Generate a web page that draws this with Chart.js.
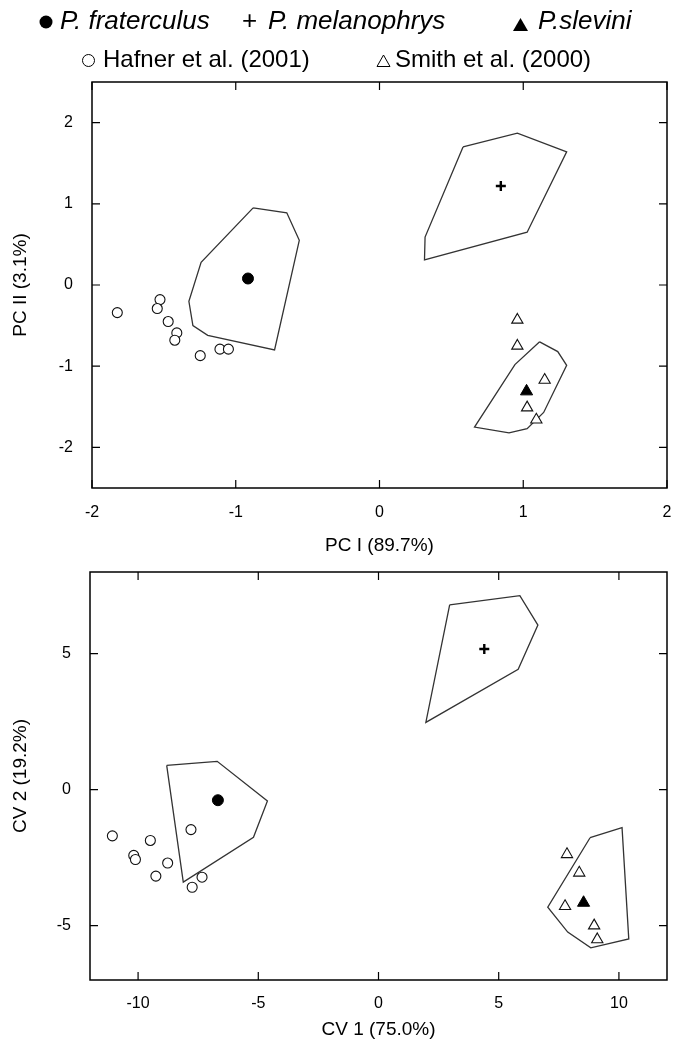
<!DOCTYPE html>
<html><head><meta charset="utf-8">
<script src="https://cdn.jsdelivr.net/npm/chart.js@4"></script>
<style>
body{margin:0;background:#fff;width:675px;height:1050px;overflow:hidden;position:relative;font-family:"Liberation Sans",Arial,sans-serif;color:#000;}
canvas{position:absolute;left:0;}
.t{position:absolute;white-space:nowrap;line-height:1;z-index:2;}
.m{position:absolute;z-index:2;}
</style></head><body>
<canvas id="pc" width="675" height="560" style="top:0;width:675px;height:560px"></canvas>
<canvas id="cv" width="675" height="490" style="top:560px;width:675px;height:490px"></canvas>

<svg class="m" style="left:39px;top:15px" width="14" height="14"><circle cx="7" cy="7" r="6.5" fill="#000"/></svg>
<div class="t" style="left:60px;top:7px;font-size:26px;font-style:italic">P. fraterculus</div>
<div class="t" style="left:242px;top:7px;font-size:26px">+</div>
<div class="t" style="left:268px;top:7px;font-size:26px;font-style:italic">P. melanophrys</div>
<svg class="m" style="left:513px;top:18px" width="16" height="14"><polygon points="0,13 7.5,0 15,13" fill="#000"/></svg>
<div class="t" style="left:538px;top:7px;font-size:26px;font-style:italic">P.slevini</div>

<svg class="m" style="left:81px;top:53px" width="15" height="15"><circle cx="7.5" cy="7.5" r="6" fill="none" stroke="#000" stroke-width="1"/></svg>
<div class="t" style="left:103px;top:47px;font-size:24px">Hafner et al. (2001)</div>
<svg class="m" style="left:376px;top:54px" width="15" height="14"><polygon points="1,12.5 7.5,1 14,12.5" fill="none" stroke="#000" stroke-width="1"/></svg>
<div class="t" style="left:395px;top:47px;font-size:24px">Smith et al. (2000)</div>

<script>
// ---------- tick labels ----------
const pcXTicks = [-2, -1, 0, 1, 2];
const pcYTicks = [-2, -1, 0, 1, 2];
const cvXTicks = [-10, -5, 0, 5, 10];
const cvYTicks = [-5, 0, 5];

// ---------- PCA (top) ----------
const pcFraterculus = [[-0.915, 0.08]];
const pcMelanophrys = [[0.844, 1.22]];
const pcSlevini = [[1.023, -1.31]];
const pcHafner = [[-1.824, -0.34], [-1.527, -0.18], [-1.546, -0.29], [-1.47, -0.45], [-1.41, -0.59], [-1.424, -0.68], [-1.247, -0.87], [-1.11, -0.79], [-1.051, -0.79]];
const pcSmith = [[0.959, -0.43], [0.959, -0.75], [1.149, -1.17], [1.027, -1.51], [1.091, -1.66]];
const pcHullFraterculus = [[-0.879, 0.95], [-0.645, 0.89], [-0.558, 0.55], [-0.73, -0.8], [-1.195, -0.62], [-1.298, -0.5], [-1.326, -0.2], [-1.241, 0.28]];
const pcHullMelanophrys = [[0.581, 1.7], [0.959, 1.87], [1.302, 1.64], [1.027, 0.65], [0.313, 0.31], [0.317, 0.59]];
const pcHullSlevini = [[1.114, -0.7], [1.24, -0.82], [1.302, -0.99], [1.142, -1.57], [1.027, -1.77], [0.901, -1.82], [0.661, -1.75], [0.942, -0.98]];

// ---------- CVA (bottom) ----------
const cvFraterculus = [[-6.68, -0.39]];
const cvMelanophrys = [[4.4, 5.17]];
const cvSlevini = [[8.53, -4.16]];
const cvHafner = [[-11.07, -1.7], [-9.49, -1.87], [-10.18, -2.42], [-10.11, -2.57], [-8.77, -2.7], [-9.26, -3.18], [-7.8, -1.47], [-7.34, -3.22], [-7.75, -3.59]];
const cvSmith = [[7.84, -2.38], [8.35, -3.06], [7.76, -4.29], [8.97, -5.0], [9.1, -5.51]];
const cvHullFraterculus = [[-8.81, 0.89], [-6.71, 1.04], [-4.62, -0.42], [-5.2, -1.75], [-8.12, -3.4]];
const cvHullMelanophrys = [[2.96, 6.79], [5.88, 7.13], [6.63, 6.05], [5.81, 4.42], [1.97, 2.47]];
const cvHullSlevini = [[8.8, -1.77], [10.13, -1.4], [10.41, -5.49], [8.83, -5.82], [7.87, -5.24], [7.04, -4.32]];

const FONT = '"Liberation Sans", Arial, sans-serif';
function pts(a) { return a.map(p => ({x: p[0], y: p[1]})); }
function ring(a) { return pts(a.concat([a[0]])); }

function datasets(frat, mel, slev, haf, smith, hulls) {
  const ds = [
    {label: 'P. fraterculus', data: pts(frat), pointStyle: 'circle', pointRadius: 5.5, backgroundColor: '#000', borderColor: '#000', borderWidth: 1},
    {label: 'P. melanophrys', data: pts(mel), pointStyle: 'cross', pointRadius: 5, borderColor: '#000', backgroundColor: '#000', borderWidth: 2.4},
    {label: 'P. slevini', data: pts(slev), pointStyle: 'triangle', pointRadius: 7, backgroundColor: '#000', borderColor: '#000', borderWidth: 1},
    {label: 'Hafner et al. (2001)', data: pts(haf), pointStyle: 'circle', pointRadius: 5, backgroundColor: '#fff', borderColor: '#111', borderWidth: 1.1},
    {label: 'Smith et al. (2000)', data: pts(smith), pointStyle: 'triangle', pointRadius: 6.5, backgroundColor: '#fff', borderColor: '#111', borderWidth: 1.1}
  ];
  hulls.forEach((h, i) => ds.push({label: 'hull' + i, data: ring(h), showLine: true, pointRadius: 0, borderColor: '#333', borderWidth: 1.3, fill: false, tension: 0}));
  return ds;
}

const frame = {
  id: 'frame',
  afterDraw(chart) {
    const {ctx, chartArea: a, scales: {x, y}} = chart;
    ctx.save();
    ctx.strokeStyle = '#000';
    ctx.lineWidth = 1.5;
    ctx.strokeRect(a.left, a.top, a.right - a.left, a.bottom - a.top);
    ctx.lineWidth = 1.2;
    ctx.beginPath();
    x.ticks.forEach(t => {
      const p = x.getPixelForValue(t.value);
      ctx.moveTo(p, a.bottom); ctx.lineTo(p, a.bottom - 8);
      ctx.moveTo(p, a.top); ctx.lineTo(p, a.top + 8);
    });
    y.ticks.forEach(t => {
      const p = y.getPixelForValue(t.value);
      ctx.moveTo(a.left, p); ctx.lineTo(a.left + 8, p);
      ctx.moveTo(a.right, p); ctx.lineTo(a.right - 8, p);
    });
    ctx.stroke();
    ctx.restore();
  }
};

function options(cfg) {
  return {
    responsive: false, animation: false, devicePixelRatio: 1,
    layout: {padding: {top: cfg.padTop, right: 2, left: 0, bottom: 0}},
    plugins: {legend: {display: false}, tooltip: {enabled: false}},
    scales: {
      x: {
        type: 'linear', min: cfg.xMin, max: cfg.xMax,
        afterBuildTicks: s => { s.ticks = cfg.xTicks.map(v => ({value: v})); },
        afterFit: s => { s.height = cfg.xHeight; s.paddingLeft = 0; s.paddingRight = 0; },
        grid: {display: false, drawTicks: false}, border: {display: false},
        ticks: {color: '#000', font: {family: FONT, size: 16}, padding: cfg.xPad, maxRotation: 0, autoSkip: false},
        title: {display: true, text: cfg.xTitle, color: '#000', font: {family: FONT, size: 19}, padding: {top: 0, bottom: cfg.xTitlePad}}
      },
      y: {
        type: 'linear', min: cfg.yMin, max: cfg.yMax,
        afterBuildTicks: s => { s.ticks = cfg.yTicks.map(v => ({value: v})); },
        afterFit: s => { s.width = cfg.yWidth; s.paddingTop = 0; s.paddingBottom = 0; },
        grid: {display: false, drawTicks: false}, border: {display: false},
        ticks: {color: '#000', font: {family: FONT, size: 16}, padding: 19, autoSkip: false},
        title: {display: true, text: cfg.yTitle, color: '#000', font: {family: FONT, size: 19}, padding: {top: 9, bottom: 0}}
      }
    }
  };
}

new Chart(document.getElementById('pc'), {
  type: 'scatter',
  data: {datasets: datasets(pcFraterculus, pcMelanophrys, pcSlevini, pcHafner, pcSmith, [pcHullFraterculus, pcHullMelanophrys, pcHullSlevini])},
  options: options({padTop: 82, xMin: -2, xMax: 2, yMin: -2.5, yMax: 2.5, xTicks: pcXTicks, yTicks: pcYTicks,
    xHeight: 72, yWidth: 92, xPad: 15, xTitlePad: 3, xTitle: 'PC I (89.7%)', yTitle: 'PC II (3.1%)'}),
  plugins: [frame]
});

new Chart(document.getElementById('cv'), {
  type: 'scatter',
  data: {datasets: datasets(cvFraterculus, cvMelanophrys, cvSlevini, cvHafner, cvSmith, [cvHullFraterculus, cvHullMelanophrys, cvHullSlevini])},
  options: options({padTop: 12, xMin: -12, xMax: 12, yMin: -7, yMax: 8, xTicks: cvXTicks, yTicks: cvYTicks,
    xHeight: 70, yWidth: 90, xPad: 14, xTitlePad: 9, xTitle: 'CV 1 (75.0%)', yTitle: 'CV 2 (19.2%)'}),
  plugins: [frame]
});
</script>
</body></html>
